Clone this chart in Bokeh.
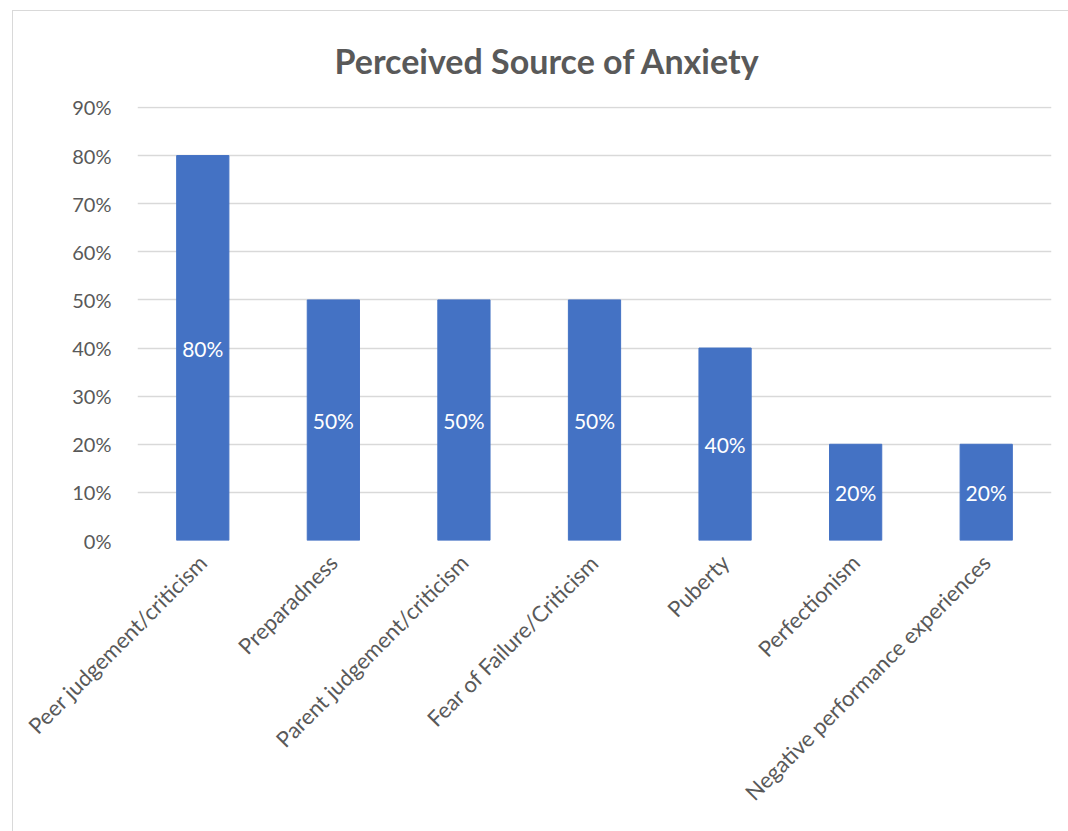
import math
from bokeh.plotting import figure
from bokeh.models import ColumnDataSource, NumeralTickFormatter, FixedTicker, LabelSet
from bokeh.core.properties import value
from bokeh.embed import file_html
from bokeh.resources import INLINE

categories = ["Peer judgement/criticism", "Preparadness", "Parent judgement/criticism",
              "Fear of Failure/Criticism", "Puberty", "Perfectionism",
              "Negative performance experiences"]
values = [0.80, 0.50, 0.50, 0.50, 0.40, 0.20, 0.20]
labels = ["80%", "50%", "50%", "50%", "40%", "20%", "20%"]
y_ticks = [0.0, 0.1, 0.2, 0.3, 0.4, 0.5, 0.6, 0.7, 0.8, 0.9]

src = ColumnDataSource(dict(cat=categories, val=values, lab=labels,
                            mid=[v / 2 for v in values]))

FONT = "Lato"
GRAY = "#595959"

p = figure(x_range=categories, y_range=(0, 0.902), width=1056, height=821,
           output_backend="svg", toolbar_location=None,
           min_border_left=124, min_border_right=18, min_border_top=94,
           min_border_bottom=292, title="Perceived Source of Anxiety",
           margin=(10, 0, 0, 12),
           styles={"border-left": "1px solid #D9D9D9", "border-top": "1px solid #D9D9D9"})
p.x_range.range_padding = 0
p.outline_line_color = None
p.background_fill_color = "white"
p.border_fill_color = "white"

p.title.align = "left"
p.title.offset = 197
p.title.standoff = 52
p.title.text_font = FONT
p.title.text_font_size = "34px"
p.title.text_font_style = "bold"
p.title.text_color = GRAY

p.vbar(x="cat", top="val", width=0.4, source=src, color="#4472C4")

p.add_layout(LabelSet(x="cat", y="mid", text="lab", source=src,
                      text_color="white", text_font=value(FONT),
                      text_font_size="21px", text_align="center",
                      text_baseline="middle"))

p.yaxis.ticker = FixedTicker(ticks=y_ticks)
p.yaxis.formatter = NumeralTickFormatter(format="0%")
p.yaxis.axis_line_color = None
p.yaxis.major_tick_line_color = None
p.yaxis.minor_tick_line_color = None
p.yaxis.major_label_text_font = FONT
p.yaxis.major_label_text_font_size = "20px"
p.yaxis.major_label_text_color = GRAY
p.yaxis.major_label_standoff = 20

p.xaxis.axis_line_color = None
p.xaxis.major_tick_line_color = None
p.xaxis.major_label_orientation = math.pi / 4
p.xaxis.major_label_text_font = FONT
p.xaxis.major_label_text_font_size = "22px"
p.xaxis.major_label_text_color = GRAY
p.xaxis.major_label_standoff = 12

p.xgrid.grid_line_color = None
p.ygrid.grid_line_color = "#D9D9D9"
p.ygrid.grid_line_width = 1.5

open("out.html", "w").write(file_html(p, INLINE))
